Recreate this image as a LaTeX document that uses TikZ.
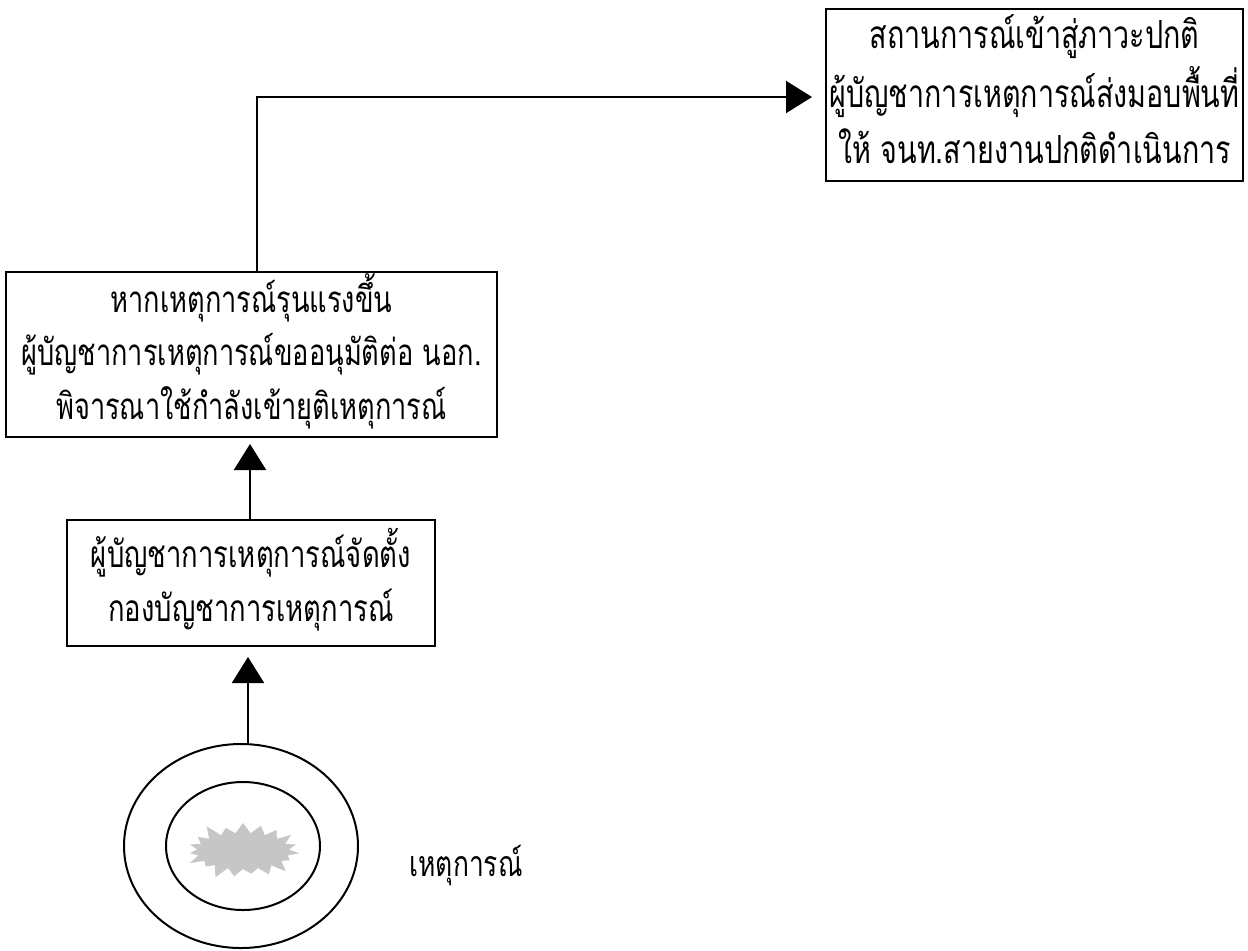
\documentclass[tikz,border=0pt]{standalone}
\usepackage{fontspec}
\usepackage{graphicx}
\newfontfamily\thai[Script=Thai,FakeStretch=0.74]{Loma}
\usetikzlibrary{arrows.meta,shapes.geometric,shapes.symbols}
\newcommand{\fitto}[2]{\resizebox{#1}{!}{\thai\fontsize{13}{19}\selectfont\begin{tabular}{@{}c@{}}#2\end{tabular}}}
\begin{document}
\begin{tikzpicture}[x=0.5pt,y=-0.5pt,
  box/.style={draw, line width=1pt, rectangle, align=center, inner sep=0pt},
  arr/.style={line width=1pt, -{Triangle[length=13pt,width=16pt]}},
  ring/.style={draw, line width=1pt, ellipse, inner sep=0pt},
  lbl/.style={inner sep=0pt}]
\useasboundingbox (0,0) rectangle (1248,950);
\node[box, minimum width=208.5pt, minimum height=83pt] (top) at (1034.5,95)
  {\fitto{205pt}{สถานการณ์เข้าสู่ภาวะปกติ\\ผู้บัญชาการเหตุการณ์ส่งมอบพื้นที่\\ให้ จนท.สายงานปกติดำเนินการ}};
\node[box, minimum width=245.5pt, minimum height=82.5pt] (mid) at (251.5,354.5)
  {\fitto{230pt}{หากเหตุการณ์รุนแรงขึ้น\\ผู้บัญชาการเหตุการณ์ขออนุมัติต่อ นอก.\\พิจารณาใช้กำลังเข้ายุติเหตุการณ์}};
\node[box, minimum width=184pt, minimum height=63pt] (cmd) at (251,583)
  {\fitto{160pt}{ผู้บัญชาการเหตุการณ์จัดตั้ง\\กองบัญชาการเหตุการณ์}};
\node[ring, minimum width=117pt, minimum height=102pt] (outer) at (241,846) {};
\node[ring, minimum width=77pt, minimum height=64pt] (inner) at (243,846) {};
\node[starburst, starburst points=19, starburst point height=7pt, fill=gray!45,
  minimum width=60pt, minimum height=32pt, inner sep=0pt] (blob) at (243,851) {};
\node[lbl] (event) at (466,866) {\fitto{56.5pt}{เหตุการณ์}};
\coordinate (turn) at (257,97);
\coordinate (a1) at (250,0);
\coordinate (a2) at (248,0);
\draw[arr, shorten >=6.5pt] (mid.north -| turn) -- (turn) -- (turn -| top.west);
\draw[arr, shorten >=3pt] (cmd.north -| a1) -- (mid.south -| a1);
\draw[arr, shorten >=5pt] (outer.north -| a2) -- (cmd.south -| a2);
\end{tikzpicture}
\end{document}
